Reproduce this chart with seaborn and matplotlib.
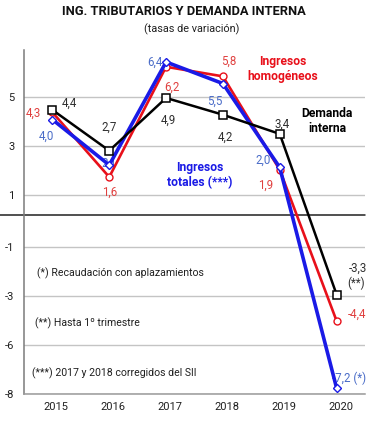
import numpy as np
import pandas as pd
import matplotlib
matplotlib.use("Agg")
import matplotlib.pyplot as plt
import matplotlib.transforms as mtransforms
import seaborn as sns

# data
years = [2015, 2016, 2017, 2018, 2019, 2020]
demanda = [4.4, 2.7, 4.9, 4.2, 3.4, -3.3]
homogeneos = [4.3, 1.6, 6.2, 5.8, 1.9, -4.4]
totales = [4.0, 2.1, 6.4, 5.5, 2.0, -7.2]

demanda_lbl = ["4,4", "2,7", "4,9", "4,2", "3,4", "-3,3"]
homog_lbl = ["4,3", "1,6", "6,2", "5,8", "1,9", "-4,4"]
totales_lbl = ["4,0", "2,1", "6,4", "5,5", "2,0", "-7,2 (*)"]

ytick_labels = ["5", "3", "1", "-1", "-3", "-6", "-8"]

df = pd.DataFrame({"year": years, "demanda": demanda,
                   "homogeneos": homogeneos, "totales": totales})

sns.set_style("white")
plt.rcParams["font.family"] = ["Roboto", "DejaVu Sans"]

RED = "#e8101a"
BLUE = "#1a1ae6"
RED_TXT = "#e0403f"
BLUE_TXT = "#4a6cc8"

fig = plt.figure(figsize=(3.82, 4.24), dpi=100)
ax = fig.add_axes([24 / 382, 1 - 394 / 424, 341 / 382, 344 / 424])

# gridlines (the original axis labels are irregular, keep them as shown)
ytick_pos = [4.95, 2.9, 0.85, -1.3, -3.35, -5.4, -7.45]
ax.set_ylim(-7.45, 6.9)
ax.set_xlim(2014.5, 2020.5)
ax.set_yticks(ytick_pos)
ax.set_yticklabels(ytick_labels)
ax.set_xticks(years)
ax.set_xticklabels([str(y) for y in years])
ax.grid(axis="y", color="#c4c4c4", lw=1)
ax.grid(axis="x", visible=False)
ax.axhline(0, xmin=-0.07, xmax=1, color="#202020", lw=1.1, clip_on=False, zorder=1)

sns.lineplot(data=df, x="year", y="homogeneos", ax=ax, color=RED, lw=1.9,
             marker="o", markersize=5, markerfacecolor="white",
             markeredgecolor=RED, markeredgewidth=1.0, zorder=3)
sns.lineplot(data=df, x="year", y="totales", ax=ax, color=BLUE, lw=2.6,
             marker="D", markersize=4.2, markerfacecolor="white",
             markeredgecolor=BLUE, markeredgewidth=1.0, zorder=4)
sns.lineplot(data=df, x="year", y="demanda", ax=ax, color="black", lw=1.8,
             marker="s", markersize=5.5, markerfacecolor="white",
             markeredgecolor="black", markeredgewidth=1.1, zorder=5)

# value labels, offsets in points
dem_off = [(12, 5), (0, 17), (2, -16), (2, -16), (2, 7), (15, 19)]
hom_off = [(-14, -1), (0, -11), (4, -15), (4, 11), (-10, -11), (15, 5)]
tot_off = [(-4, -12), (0, 1), (-8, 0), (-6, -13), (-12, 5), (-3, 7)]

for i, yr in enumerate(years):
    ax.annotate(demanda_lbl[i], (yr, demanda[i]), xytext=dem_off[i],
                textcoords="offset points", ha="center", va="center",
                fontsize=8.3, color="#303030", zorder=6)
    ax.annotate(homog_lbl[i], (yr, homogeneos[i]), xytext=hom_off[i],
                textcoords="offset points", ha="center", va="center",
                fontsize=8.3, color=RED_TXT, zorder=6)
    ax.annotate(totales_lbl[i], (yr, totales[i]), xytext=tot_off[i],
                textcoords="offset points",
                ha="left" if i == 5 else "center", va="center",
                fontsize=8.3, color=BLUE_TXT, zorder=2 if i in (1, 5) else 6)
ax.annotate("(**)", (years[5], demanda[5]), xytext=(14, 8),
            textcoords="offset points", ha="center", va="center",
            fontsize=8.3, color="#303030")

# series names
ax.text(0.76, 0.945, "Ingresos\nhomogéneos", transform=ax.transAxes, ha="center",
        va="center", color=RED, fontsize=8.7, fontweight="bold", linespacing=1.15)
ax.text(0.889, 0.794, "Demanda\ninterna", transform=ax.transAxes, ha="center",
        va="center", color="black", fontsize=8.7, fontweight="bold", linespacing=1.15)
ax.text(0.516, 0.637, "Ingresos\ntotales (***)", transform=ax.transAxes, ha="center",
        va="center", color=BLUE, fontsize=8.7, fontweight="bold", linespacing=1.15)

# footnotes
ax.text(0.038, 0.352, "(*) Recaudación con aplazamientos", transform=ax.transAxes,
        va="center", fontsize=7.6, color="#202020")
ax.text(0.032, 0.206, "(**) Hasta 1º trimestre", transform=ax.transAxes,
        va="center", fontsize=7.6, color="#202020")
ax.text(0.023, 0.061, "(***) 2017 y 2018 corregidos del SII", transform=ax.transAxes,
        va="center", fontsize=7.6, color="#202020")

# axes styling
ax.set_xlabel("")
ax.set_ylabel("")
for s in ["top", "right"]:
    ax.spines[s].set_visible(False)
ax.spines["left"].set_color("#7a7a7a")
ax.spines["left"].set_linewidth(1.1)
ax.spines["bottom"].set_color("#9a9a9a")
ax.spines["bottom"].set_linewidth(1.1)
ax.tick_params(axis="y", length=4, width=1, color="#7a7a7a", pad=3,
               labelsize=8, labelcolor="#202020")
ax.tick_params(axis="x", length=0, pad=6, labelsize=8, labelcolor="#202020")
shift = mtransforms.ScaledTranslation(4 / 100, 0, fig.dpi_scale_trans)
for lab in ax.get_xticklabels():
    lab.set_transform(lab.get_transform() + shift)

fig.text(0.482, 0.972, "ING. TRIBUTARIOS Y DEMANDA INTERNA", ha="center",
         va="center", fontsize=9.3, fontweight="bold", color="#111111")
fig.text(0.503, 0.932, "(tasas de variación)", ha="center", va="center",
         fontsize=7.8, color="#202020")

fig.savefig("out.png", dpi=100)
